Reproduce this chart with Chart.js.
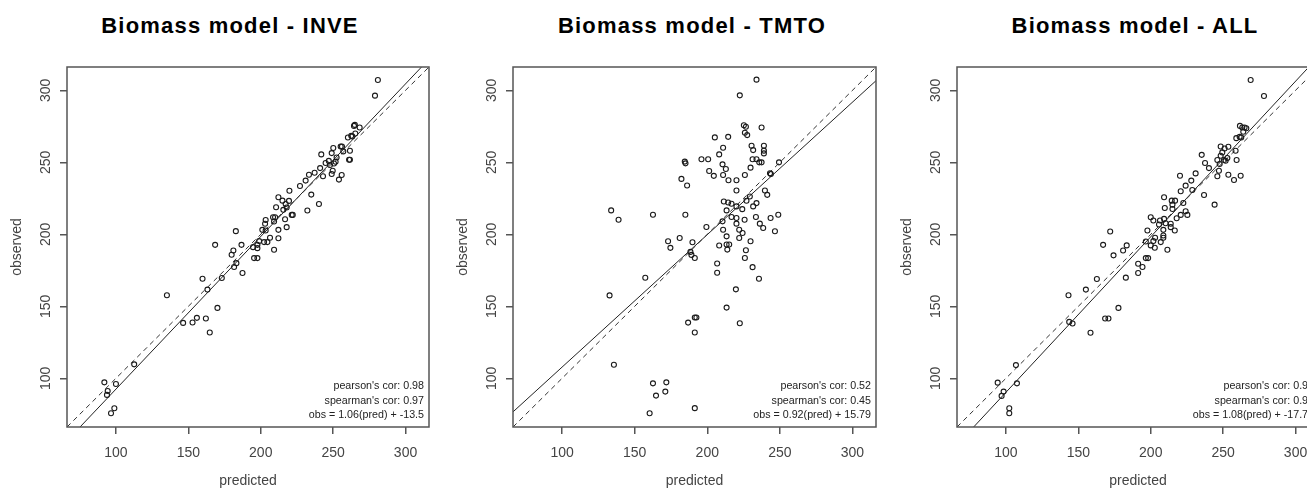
<!DOCTYPE html>
<html>
<head>
<meta charset="utf-8">
<script src="https://cdn.jsdelivr.net/npm/chart.js@4.4.1/dist/chart.umd.min.js"></script>
<style>
html,body{margin:0;padding:0;background:#fff;overflow:hidden;width:1307px;height:488px;position:relative}
.panel{position:absolute;top:0}
.ttl{position:absolute;top:15px;width:400px;text-align:center;font:bold 22px "Liberation Sans",Arial,sans-serif;letter-spacing:1.2px;line-height:22px;color:#000;white-space:nowrap}
</style>
</head>
<body>
<div class="ttl" style="left:30px">Biomass model - INVE</div>
<div class="ttl" style="left:492px">Biomass model - TMTO</div>
<div class="ttl" style="left:935px">Biomass model - ALL</div>
<canvas id="c1" class="panel" width="436" height="488" style="left:0px"></canvas>
<canvas id="c2" class="panel" width="437" height="488" style="left:446px"></canvas>
<canvas id="c3" class="panel" width="436" height="488" style="left:890px"></canvas>
<script>
// axis limits and ticks (same for all three panels)
const axisMin = 66.2, axisMax = 316.2
const tickValues = [100, 150, 200, 250, 300]

// INVE panel
const inveX = [280.9, 278.9, 264.4, 265.0, 268.3, 265.3, 262.5, 263.2, 260.2, 255.2, 256.1, 250.1, 261.6, 257.0, 261.0, 261.6, 249.0, 241.8, 252.4, 247.0, 244.8, 250.6, 247.8, 251.7, 241.0, 249.7, 249.0, 243.0, 255.9, 254.0, 233.3, 237.2, 231.0, 227.1, 234.9, 240.2, 232.2, 219.8, 212.2, 215.0, 219.5, 217.2, 217.9, 215.6, 221.4, 222.1, 210.6, 216.8, 217.9, 208.5, 209.9, 209.2, 203.4, 203.0, 201.1, 203.4, 212.2, 212.2, 206.4, 204.6, 202.3, 198.9, 197.7, 194.7, 197.7, 209.2, 195.4, 197.7, 186.7, 182.8, 181.1, 179.9, 183.2, 181.6, 187.4, 168.5, 173.1, 159.8, 163.2, 135.2, 170.1, 162.1, 155.9, 152.9, 146.4, 164.8, 112.6, 92.0, 100.0, 94.3, 93.8, 98.9, 96.6]
const inveY = [307.2, 296.3, 275.3, 276.0, 274.2, 270.0, 268.4, 268.0, 267.2, 261.0, 261.0, 259.9, 258.0, 257.6, 251.8, 251.8, 256.4, 255.5, 253.4, 251.0, 249.5, 249.2, 248.1, 250.4, 246.0, 244.2, 241.9, 240.3, 241.2, 238.0, 241.4, 242.8, 237.3, 233.6, 227.6, 221.1, 216.5, 230.3, 225.7, 223.4, 223.2, 221.1, 218.6, 217.0, 213.5, 213.5, 218.8, 210.5, 205.0, 211.9, 211.9, 208.9, 210.0, 207.3, 203.1, 202.7, 203.1, 197.3, 197.6, 194.6, 194.6, 195.3, 192.7, 191.1, 190.4, 189.3, 183.5, 183.5, 192.7, 202.2, 188.8, 185.8, 180.0, 177.3, 173.1, 192.7, 169.7, 169.2, 161.6, 157.7, 148.9, 141.5, 142.0, 138.8, 138.5, 131.8, 109.7, 97.2, 96.1, 91.2, 88.5, 79.2, 75.8]
const inveFit = [1.06, -13.5]
const inveStats = ["pearson's cor: 0.98", "spearman's cor: 0.97", "obs = 1.06(pred) + -13.5"]

// TMTO panel
const tmtoX = [233.9, 222.4, 225.2, 226.6, 237.4, 225.9, 227.5, 205.2, 214.4, 230.5, 239.0, 210.9, 231.6, 239.0, 239.0, 208.2, 196.0, 200.6, 184.5, 185.0, 231.2, 233.9, 235.8, 237.4, 249.4, 210.5, 212.8, 201.3, 229.8, 243.2, 243.8, 225.9, 210.9, 204.5, 214.6, 220.1, 182.2, 186.1, 220.1, 239.7, 241.3, 229.3, 227.0, 233.9, 211.4, 214.4, 216.7, 220.1, 231.6, 224.1, 213.3, 133.8, 138.9, 162.6, 184.9, 248.9, 216.7, 220.1, 233.5, 243.6, 225.7, 210.5, 220.1, 236.2, 238.5, 199.4, 210.9, 246.6, 222.0, 224.3, 213.3, 222.0, 181.0, 173.0, 174.6, 229.8, 189.8, 208.2, 213.3, 215.1, 213.8, 226.6, 188.4, 189.1, 191.4, 225.9, 206.8, 206.8, 231.2, 235.6, 157.3, 219.7, 132.7, 213.3, 191.4, 192.5, 186.8, 222.4, 191.4, 135.7, 171.8, 162.6, 171.1, 164.7, 191.4, 160.3]
const tmtoY = [307.4, 296.5, 275.8, 274.7, 274.2, 270.5, 268.9, 267.3, 267.7, 261.5, 261.5, 260.1, 258.5, 258.1, 256.2, 255.5, 252.1, 252.1, 250.5, 249.3, 252.1, 252.1, 250.0, 250.0, 250.0, 248.6, 245.4, 244.0, 246.3, 242.4, 241.9, 241.2, 241.2, 240.6, 237.6, 237.6, 238.5, 233.9, 230.4, 230.4, 227.4, 226.3, 223.3, 221.7, 222.8, 222.1, 221.2, 219.4, 219.4, 217.5, 216.6, 216.6, 210.1, 213.6, 213.6, 213.6, 212.0, 211.3, 212.0, 211.3, 210.1, 209.0, 207.4, 207.4, 204.4, 205.1, 203.2, 202.1, 203.2, 200.9, 198.6, 197.5, 197.5, 195.2, 190.6, 195.2, 194.5, 192.2, 192.9, 192.9, 189.4, 188.9, 187.8, 185.7, 183.6, 183.6, 179.7, 173.3, 177.2, 169.1, 169.8, 161.8, 157.6, 149.1, 142.2, 142.2, 138.7, 138.2, 131.8, 109.4, 97.2, 96.5, 90.8, 88.0, 79.3, 75.8]
const tmtoFit = [0.92, 15.79]
const tmtoStats = ["pearson's cor: 0.52", "spearman's cor: 0.45", "obs = 0.92(pred) + 15.79"]

// ALL panel
const allX = [269.0, 278.2, 261.6, 263.2, 264.8, 266.0, 263.9, 261.4, 262.5, 259.1, 248.3, 253.6, 251.0, 258.6, 249.4, 235.2, 248.3, 252.9, 259.3, 246.0, 250.6, 251.7, 237.5, 247.6, 240.2, 247.1, 246.0, 253.6, 262.1, 257.5, 220.2, 231.0, 228.0, 224.1, 220.7, 228.7, 236.8, 244.1, 209.2, 214.5, 216.8, 222.5, 215.0, 209.7, 215.0, 224.1, 220.7, 225.3, 200.0, 201.8, 206.4, 209.2, 210.3, 213.8, 217.9, 205.7, 208.7, 213.8, 216.6, 197.7, 208.7, 208.7, 203.0, 201.8, 196.6, 206.9, 200.0, 202.8, 211.5, 196.6, 198.2, 191.3, 194.3, 191.3, 183.4, 180.9, 172.0, 167.1, 174.3, 182.8, 162.8, 155.2, 143.2, 177.7, 168.5, 170.8, 143.7, 146.0, 158.4, 106.9, 107.6, 94.3, 98.4, 97.0, 102.3, 102.3]
const allY = [307.2, 296.1, 275.3, 274.2, 274.2, 273.7, 271.2, 267.7, 267.2, 266.8, 261.0, 260.8, 259.6, 258.0, 256.9, 255.2, 254.6, 253.0, 251.6, 251.6, 251.6, 251.1, 249.5, 248.8, 246.0, 244.2, 240.3, 241.4, 240.7, 237.7, 240.7, 242.3, 237.3, 233.8, 229.9, 230.8, 227.3, 220.6, 225.7, 223.4, 223.4, 221.8, 220.6, 218.3, 217.6, 216.0, 213.5, 213.5, 211.9, 209.6, 209.6, 210.7, 207.7, 207.3, 211.2, 206.8, 203.1, 205.0, 202.7, 202.7, 199.2, 197.6, 197.6, 195.3, 195.0, 194.6, 192.3, 190.7, 189.3, 183.5, 183.5, 179.6, 177.3, 173.1, 192.3, 188.8, 202.0, 192.7, 185.4, 169.9, 169.0, 161.6, 157.7, 148.9, 141.5, 141.5, 139.2, 138.1, 131.6, 109.2, 96.5, 97.0, 90.8, 87.8, 79.2, 75.8]
const allFit = [1.08, -17.71]
const allStats = ["pearson's cor: 0.98", "spearman's cor: 0.97", "obs = 1.08(pred) + -17.71"]

Chart.defaults.font.family = '"Liberation Sans", Arial, sans-serif'

// box round the plot region + the correlation text in the lower right corner
const frameAndStats = {
    id: 'frameAndStats',
    afterDraw(chart, args, opts) {
        const {ctx, chartArea: a} = chart
        ctx.save()
        ctx.strokeStyle = '#555'
        ctx.lineWidth = 1.5
        ctx.strokeRect(a.left, a.top, a.right - a.left, a.bottom - a.top)
        ctx.fillStyle = '#222'
        ctx.font = '10.7px "Liberation Sans", Arial, sans-serif'
        ctx.textAlign = 'right'
        ctx.textBaseline = 'alphabetic'
        opts.lines.forEach((t, i) => ctx.fillText(t, a.right - 5, a.bottom - 38 + i * 14.5))
        ctx.restore()
    }
}

function makePanel(id, xs, ys, fit, stats) {
    const pts = xs.map((x, i) => ({x: x, y: ys[i]}))
    const ends = [axisMin, axisMax]
    new Chart(id, {
        type: 'scatter',
        data: {
            datasets: [{
                data: pts,
                pointStyle: 'circle',
                pointRadius: 2.5,
                borderWidth: 1.1,
                borderColor: '#1a1a1a',
                backgroundColor: 'rgba(0,0,0,0)'
            }, {
                data: ends.map(x => ({x: x, y: x})),
                showLine: true,
                borderColor: '#333',
                borderWidth: 1,
                borderDash: [5, 4],
                pointRadius: 0
            }, {
                data: ends.map(x => ({x: x, y: fit[0] * x + fit[1]})),
                showLine: true,
                borderColor: '#222',
                borderWidth: 1,
                pointRadius: 0
            }]
        },
        options: {
            responsive: false,
            animation: false,
            events: [],
            layout: {padding: {top: 67, right: 7, left: 0, bottom: 0}},
            plugins: {
                legend: {display: false},
                tooltip: {enabled: false},
                frameAndStats: {lines: stats}
            },
            scales: {
                x: {
                    type: 'linear',
                    min: axisMin,
                    max: axisMax,
                    afterBuildTicks: s => { s.ticks = tickValues.map(v => ({value: v})) },
                    afterFit: s => { s.height = 61 },
                    grid: {drawOnChartArea: false, tickLength: 7, color: '#555', lineWidth: 1.5},
                    border: {display: false},
                    ticks: {font: {size: 14}, color: '#444', padding: 11},
                    title: {display: true, text: 'predicted', font: {size: 14}, color: '#444', padding: {top: 0, bottom: -2}}
                },
                y: {
                    type: 'linear',
                    min: axisMin,
                    max: axisMax,
                    afterBuildTicks: s => { s.ticks = tickValues.map(v => ({value: v})) },
                    afterFit: s => { s.width = 67 },
                    grid: {drawOnChartArea: false, tickLength: 7, color: '#555', lineWidth: 1.5},
                    border: {display: false},
                    ticks: {font: {size: 14}, color: '#444', padding: 2.5, minRotation: 90, maxRotation: 90, crossAlign: 'center'},
                    title: {display: true, text: 'observed', font: {size: 14}, color: '#444', padding: {top: 8.6, bottom: 0}}
                }
            }
        },
        plugins: [frameAndStats]
    })
}

makePanel('c1', inveX, inveY, inveFit, inveStats)
makePanel('c2', tmtoX, tmtoY, tmtoFit, tmtoStats)
makePanel('c3', allX, allY, allFit, allStats)
</script>
</body>
</html>
